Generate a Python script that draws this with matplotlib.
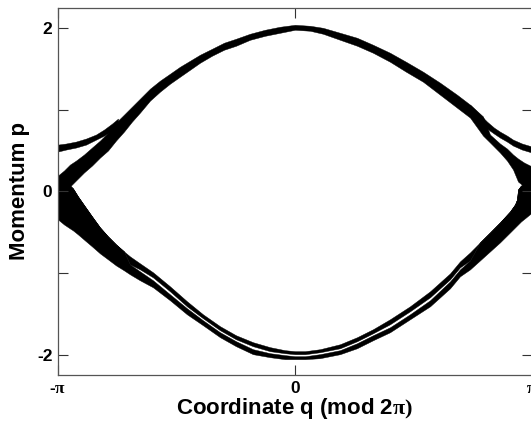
import numpy as np
import matplotlib
matplotlib.use("Agg")
import matplotlib.pyplot as plt

plt.rcParams['font.family'] = ['Liberation Sans', 'DejaVu Sans']
plt.rcParams['font.weight'] = 'bold'
plt.rcParams['mathtext.fontset'] = 'custom'
plt.rcParams['mathtext.rm'] = 'Liberation Serif'
plt.rcParams['mathtext.it'] = 'Liberation Serif'

# upper separatrix layer (q, top edge, bottom edge)
upper_q = [-3.142, -3.062, -2.983, -2.903, -2.797, -2.691, -2.585, -2.479, -2.373, -2.267,
           -2.161, -2.055, -1.922, -1.790, -1.657, -1.524, -1.392, -1.259, -1.100, -0.941,
           -0.782, -0.597, -0.398, -0.199, 0.0, 0.199, 0.371, 0.597, 0.822, 1.034,
           1.259, 1.471, 1.697, 1.922, 2.147, 2.320, 2.492, 2.585, 2.717, 2.810,
           2.890, 2.956, 3.036, 3.142]
upper_hi = [0.196, 0.257, 0.330, 0.379, 0.453, 0.539, 0.624, 0.722, 0.845, 0.942,
            1.040, 1.138, 1.261, 1.359, 1.444, 1.530, 1.603, 1.677, 1.750, 1.824,
            1.873, 1.934, 1.983, 2.020, 2.044, 2.032, 2.007, 1.946, 1.885, 1.799,
            1.701, 1.591, 1.469, 1.334, 1.187, 1.065, 0.920, 0.698, 0.588, 0.526,
            0.453, 0.404, 0.355, 0.306]
upper_lo = [-0.037, 0.012, 0.061, 0.135, 0.233, 0.318, 0.416, 0.502, 0.624, 0.734,
            0.857, 0.967, 1.114, 1.224, 1.322, 1.408, 1.493, 1.579, 1.665, 1.738,
            1.787, 1.860, 1.909, 1.946, 1.983, 1.971, 1.934, 1.860, 1.787, 1.701,
            1.591, 1.469, 1.346, 1.187, 1.028, 0.906, 0.685, 0.600, 0.477, 0.379,
            0.269, 0.122, 0.061, 0.024]

# rotating orbits just outside the layer (left and right ends)
outer_left_q = [-3.142, -3.036, -2.903, -2.770, -2.638, -2.532, -2.426, -2.346]
outer_left_hi = [0.575, 0.588, 0.612, 0.649, 0.698, 0.759, 0.832, 0.894]
outer_left_lo = [0.490, 0.514, 0.539, 0.575, 0.636, 0.685, 0.747, 0.796]
outer_right_q = [2.320, 2.426, 2.545, 2.638, 2.717, 2.810, 2.890, 3.009, 3.142]
outer_right_hi = [1.065, 0.967, 0.857, 0.783, 0.734, 0.685, 0.636, 0.588, 0.551]
outer_right_lo = [0.960, 0.869, 0.771, 0.710, 0.661, 0.612, 0.563, 0.514, 0.477]

# lower separatrix layer: top, gap top, gap bottom, bottom
lower_q = [-3.142, -3.062, -2.983, -2.943, -2.877, -2.784, -2.691, -2.585, -2.479, -2.373,
           -2.267, -2.187, -2.055, -1.882, -1.657, -1.432, -1.220, -0.994, -0.782, -0.557,
           -0.331, -0.133, 0.0, 0.133, 0.331, 0.597, 0.822, 1.034, 1.259, 1.524,
           1.790, 2.055, 2.187, 2.320, 2.452, 2.585, 2.717, 2.850, 2.916, 2.943,
           2.956, 2.996, 3.062, 3.142]
lower_hi = [0.184, 0.122, 0.073, 0.037, -0.061, -0.184, -0.306, -0.441, -0.551, -0.649,
            -0.735, -0.796, -0.881, -0.991, -1.163, -1.346, -1.506, -1.652, -1.763, -1.848,
            -1.909, -1.946, -1.958, -1.958, -1.934, -1.873, -1.787, -1.689, -1.567, -1.408,
            -1.224, -1.004, -0.857, -0.747, -0.624, -0.502, -0.379, -0.245, -0.159, -0.098,
            0.024, 0.073, 0.086, 0.086]
lower_gap_hi = [0.184, 0.122, 0.073, 0.037, -0.061, -0.184, -0.306, -0.441, -0.551, -0.649,
                -0.735, -0.894, -0.955, -1.053, -1.224, -1.408, -1.554, -1.701, -1.812, -1.897,
                -1.958, -1.983, -1.995, -1.995, -1.971, -1.922, -1.836, -1.738, -1.628, -1.469,
                -1.297, -1.077, -0.930, -0.845, -0.624, -0.502, -0.379, -0.245, -0.159, -0.098,
                0.024, 0.073, 0.086, 0.086]
lower_gap_lo = [0.184, 0.122, 0.073, 0.037, -0.061, -0.184, -0.306, -0.441, -0.551, -0.649,
                -0.735, -0.894, -0.979, -1.089, -1.261, -1.432, -1.579, -1.726, -1.836, -1.934,
                -1.983, -2.007, -2.020, -2.020, -1.995, -1.946, -1.861, -1.763, -1.665, -1.506,
                -1.334, -1.102, -0.955, -0.845, -0.624, -0.502, -0.379, -0.245, -0.159, -0.098,
                0.024, 0.073, 0.086, 0.086]
lower_lo = [-0.343, -0.404, -0.453, -0.477, -0.526, -0.600, -0.673, -0.759, -0.832, -0.906,
            -0.967, -1.016, -1.089, -1.175, -1.334, -1.506, -1.640, -1.787, -1.897, -1.995,
            -2.032, -2.056, -2.056, -2.056, -2.044, -1.995, -1.922, -1.824, -1.726, -1.567,
            -1.408, -1.187, -1.040, -0.955, -0.845, -0.734, -0.624, -0.502, -0.441, -0.416,
            -0.404, -0.367, -0.318, -0.257]

x_ticks = [-np.pi, 0, np.pi]
x_ticklabels = ['-$\\pi$', '0', '$\\pi$']
y_ticks = [-2, -1, 0, 1, 2]
y_ticklabels = ['-2', '', '0', '', '2']

fig = plt.figure(figsize=(5.31, 4.21), dpi=100)
ax = fig.add_axes([0.1092, 0.1093, 0.8927, 0.8717])

kw = dict(color='black', linewidth=0.3)
ax.fill_between(upper_q, upper_lo, upper_hi, **kw)
ax.fill_between(outer_left_q, outer_left_lo, outer_left_hi, **kw)
ax.fill_between(outer_right_q, outer_right_lo, outer_right_hi, **kw)
ax.fill_between(lower_q, lower_gap_hi, lower_hi, **kw)
ax.fill_between(lower_q, lower_lo, lower_gap_lo, **kw)

ax.set_xlim(-np.pi, np.pi)
ax.set_ylim(-2.25, 2.25)
ax.set_xticks(x_ticks)
ax.set_xticklabels(x_ticklabels)
ax.set_yticks(y_ticks)
ax.set_yticklabels(y_ticklabels)
ax.tick_params(direction='in', length=7, width=0.8, color='#333333',
               top=True, right=True, labelsize=12.5)
ax.tick_params(axis='y', pad=4)
ax.tick_params(axis='x', pad=4)
for s in ax.spines.values():
    s.set_color('#555555')
    s.set_linewidth(0.9)

ax.set_xlabel('Coordinate q (mod 2$\\pi)$', fontsize=16, fontweight='bold', labelpad=0)
ax.set_ylabel('Momentum p', fontsize=16, fontweight='bold', labelpad=5)

plt.savefig('out.png', dpi=100)
plt.close()
